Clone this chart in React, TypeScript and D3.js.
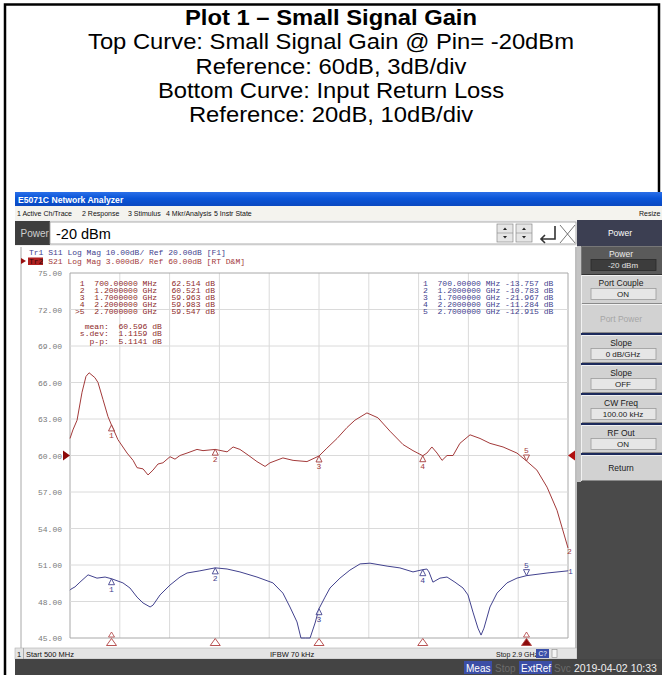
import React, { useRef, useEffect } from "react";
import * as d3 from "d3";

// testo sopra lo screenshot
const titleLines = [
  "Plot 1 – Small Signal Gain",
  "Top Curve: Small Signal Gain @ Pin= -20dBm",
  "Reference: 60dB, 3dB/div",
  "Bottom Curve: Input Return Loss",
  "Reference: 20dB, 10dB/div",
];

// S21 (Tr2) - frequenza in MHz, valore in dB
const s21Freq = [500, 514, 534, 558, 577, 592, 620, 635, 659, 683, 700, 731, 775, 804, 823, 852, 876, 900, 924, 948, 982, 1006, 1030, 1064, 1112, 1141, 1200, 1257, 1286, 1319, 1353, 1401, 1440, 1464, 1526, 1575, 1642, 1700, 1738, 1787, 1835, 1873, 1931, 1984, 2042, 2105, 2153, 2200, 2220, 2244, 2269, 2293, 2317, 2346, 2379, 2428, 2476, 2524, 2587, 2654, 2700, 2750, 2799, 2847, 2900];
const s21Db = [61.4, 62.1, 62.9, 65.2, 66.5, 66.8, 66.4, 66.0, 64.6, 63.2, 62.5, 61.3, 60.2, 59.6, 59.0, 58.9, 58.4, 58.8, 59.3, 59.4, 59.9, 59.7, 60.0, 60.2, 60.5, 60.4, 60.5, 60.3, 60.7, 60.5, 60.1, 59.5, 59.1, 59.4, 59.8, 59.6, 59.5, 59.96, 60.6, 61.4, 62.3, 62.9, 63.5, 63.1, 62.0, 60.9, 60.4, 59.98, 60.2, 60.7, 60.2, 59.6, 60.0, 60.0, 61.0, 61.7, 61.4, 61.0, 60.7, 60.2, 59.55, 58.8, 57.4, 55.5, 52.4];

// S11 (Tr1)
const s11Freq = [500, 505, 524, 548, 587, 630, 669, 700, 755, 789, 823, 852, 886, 900, 934, 982, 1030, 1064, 1126, 1200, 1257, 1319, 1401, 1478, 1526, 1560, 1594, 1613, 1635, 1657, 1681, 1700, 1729, 1753, 1801, 1849, 1898, 1946, 2028, 2090, 2153, 2200, 2220, 2230, 2249, 2283, 2317, 2355, 2394, 2418, 2442, 2466, 2481, 2495, 2524, 2558, 2606, 2654, 2700, 2799, 2900];
const s11Db = [-16.9, -16.6, -16.0, -14.7, -12.7, -13.6, -13.3, -13.76, -14.9, -16.3, -18.8, -20.4, -21.5, -21.0, -18.2, -15.5, -13.3, -12.2, -11.6, -10.78, -11.1, -11.9, -13.3, -14.9, -17.7, -21.5, -25.6, -30.5, -35, -30.5, -25.9, -21.97, -18.8, -16.3, -13.6, -11.4, -9.7, -9.5, -10.3, -10.8, -11.9, -11.28, -11.1, -11.9, -14.7, -13.6, -13.3, -14.7, -16.3, -18.2, -22.9, -27.3, -29.2, -27.3, -21.5, -17.7, -14.9, -13.6, -12.92, -12.2, -11.6];

// marker
const markerFreq = [700, 1200, 1700, 2200, 2700];
const markerFreqText = ["700.00000 MHz", "1.2000000 GHz", "1.7000000 GHz", "2.2000000 GHz", "2.7000000 GHz"];
const s21Marker = [62.514, 60.521, 59.963, 59.983, 59.547];
const s11Marker = [-13.757, -10.783, -21.967, -11.284, -12.915];
const statLabels = ["  mean:", " s.dev:", "   p-p:"];
const statValues = ["60.596", "1.1159", "5.1141"];

const yTicks = [75, 72, 69, 66, 63, 60, 57, 54, 51, 48, 45];
const menuItems = ["1 Active Ch/Trace", "2 Response", "3 Stimulus", "4 Mkr/Analysis", "5 Instr State"];
const softLabels = ["Power", "Port Couple", "Port Power", "Slope", "Slope", "CW Freq", "RF Out", "Return"];
const softValues = ["-20 dBm", "ON", "", "0 dB/GHz", "OFF", "100.00 kHz", "ON", ""];

const MONO = "'Liberation Mono', 'DejaVu Sans Mono', monospace";
const SANS = "'Liberation Sans', Arial, sans-serif";
const RED = "#a33a3a";
const BLUE = "#42428e";

export default function App() {
  const svgRef = useRef<SVGSVGElement>(null);

  useEffect(() => {
    const svg = d3.select(svgRef.current);
    svg.selectAll("*").remove();

    svg.append("rect").attr("width", 662).attr("height", 675).attr("fill", "#fff");

    // cornice nera
    svg.append("path")
      .attr("d", "M5,675 V4.5 H659 V195")
      .attr("fill", "none").attr("stroke", "#000").attr("stroke-width", 2.5);

    // righe del titolo: leggermente allargate in orizzontale, come nell'immagine
    titleLines.forEach((t, i) => {
      svg.append("text")
        .attr("transform", `translate(331,${25 + i * 24.3}) scale(1.107,1)`)
        .attr("text-anchor", "middle")
        .style("font-family", SANS)
        .style("font-size", "21.5px")
        .style("font-weight", i === 0 ? "bold" : "normal")
        .text(t);
    });

    // ---- finestra analizzatore ----
    const defs = svg.append("defs");
    const grad = defs.append("linearGradient").attr("id", "tb").attr("x1", 0).attr("y1", 0).attr("x2", 0).attr("y2", 1);
    grad.append("stop").attr("offset", "0%").attr("stop-color", "#2a6fe8");
    grad.append("stop").attr("offset", "45%").attr("stop-color", "#0a55d8");
    grad.append("stop").attr("offset", "100%").attr("stop-color", "#0a48c0");

    svg.append("rect").attr("x", 15).attr("y", 192).attr("width", 647).attr("height", 14).attr("fill", "url(#tb)");
    svg.append("text").attr("x", 18).attr("y", 203)
      .style("font-family", SANS).style("font-size", "8.6px").style("font-weight", "bold")
      .attr("fill", "#fff").text("E5071C Network Analyzer");

    svg.append("rect").attr("x", 15).attr("y", 206).attr("width", 647).attr("height", 14).attr("fill", "#f4f3ee");
    const menuX = [17, 82, 128, 166, 214];
    menuItems.forEach((m, i) => {
      svg.append("text").attr("x", menuX[i]).attr("y", 216)
        .style("font-family", SANS).style("font-size", "7px").attr("fill", "#111").text(m);
    });
    svg.append("text").attr("x", 639).attr("y", 216)
      .style("font-family", SANS).style("font-size", "7px").attr("fill", "#111").text("Resize");

    // barra Power
    svg.append("rect").attr("x", 15).attr("y", 220).attr("width", 562).attr("height", 26).attr("fill", "#f0f0f0");
    svg.append("rect").attr("x", 15).attr("y", 221).attr("width", 35).attr("height", 24).attr("fill", "#3e3e3e");
    svg.append("text").attr("x", 20.5).attr("y", 237)
      .style("font-family", SANS).style("font-size", "10px").attr("fill", "#cfcfcf").text("Power");
    svg.append("rect").attr("x", 50).attr("y", 222).attr("width", 526).attr("height", 22)
      .attr("fill", "#fff").attr("stroke", "#9a9a9a").attr("stroke-width", 0.8);
    svg.append("text").attr("x", 56).attr("y", 239)
      .style("font-family", SANS).style("font-size", "14.5px").attr("fill", "#000").text("-20 dBm");
    [497, 516].forEach(sx => {
      svg.append("rect").attr("x", sx).attr("y", 224).attr("width", 16).attr("height", 18)
        .attr("fill", "#e6e6e6").attr("stroke", "#8a8a8a").attr("stroke-width", 0.7);
      svg.append("line").attr("x1", sx).attr("x2", sx + 16).attr("y1", 233).attr("y2", 233).attr("stroke", "#8a8a8a").attr("stroke-width", 0.6);
      svg.append("path").attr("d", `M${sx + 6},230 L${sx + 8},227.5 L${sx + 10},230 Z`).attr("fill", "#222");
      svg.append("path").attr("d", `M${sx + 6},236 L${sx + 8},238.5 L${sx + 10},236 Z`).attr("fill", "#222");
    });
    svg.append("path").attr("d", "M555,226 V239 H541 M545,235 L541,239 L545,243")
      .attr("fill", "none").attr("stroke", "#333").attr("stroke-width", 1.6);
    svg.append("path").attr("d", "M560,225 L575,243 M575,225 L560,243")
      .attr("fill", "none").attr("stroke", "#555").attr("stroke-width", 0.8);

    svg.append("rect").attr("x", 577).attr("y", 220).attr("width", 85).attr("height", 26).attr("fill", "#3c3f52");
    svg.append("text").attr("x", 620).attr("y", 236).attr("text-anchor", "middle")
      .style("font-family", SANS).style("font-size", "8.5px").attr("fill", "#fff").text("Power");

    // pannello grafico
    svg.append("rect").attr("x", 15).attr("y", 246).attr("width", 562).attr("height", 402).attr("fill", "#fff");
    svg.append("line").attr("x1", 21).attr("x2", 21).attr("y1", 247).attr("y2", 648).attr("stroke", "#a8a8a8");
    svg.append("line").attr("x1", 576).attr("x2", 576).attr("y1", 247).attr("y2", 648).attr("stroke", "#a8a8a8").attr("stroke-width", 1.5);

    // intestazione tracce
    svg.append("text").attr("x", 29).attr("y", 255).attr("xml:space", "preserve")
      .style("font-family", MONO).style("font-size", "8px").attr("fill", BLUE)
      .text("Tr1 S11 Log Mag 10.00dB/ Ref 20.00dB [F1]");
    svg.append("path").attr("d", "M21,258 L26,261 L21,264 Z").attr("fill", "#9a1010");
    svg.append("rect").attr("x", 28).attr("y", 257.5).attr("width", 15).attr("height", 7.5).attr("fill", "#b02020");
    svg.append("text").attr("x", 29).attr("y", 263.5).attr("xml:space", "preserve")
      .style("font-family", MONO).style("font-size", "8px").attr("fill", "#3a0a0a")
      .text("Tr2");
    svg.append("text").attr("x", 48.2).attr("y", 263.5).attr("xml:space", "preserve")
      .style("font-family", MONO).style("font-size", "8px").attr("fill", RED)
      .text("S21 Log Mag 3.000dB/ Ref 60.00dB [RT D&M]");

    // scale
    const x = d3.scaleLinear().domain([500, 2900]).range([70, 568]);
    const y21 = d3.scaleLinear().domain([45, 75]).range([638, 273]).clamp(true);
    const y11 = d3.scaleLinear().domain([-30, 70]).range([638, 273]).clamp(true);

    const grid = svg.append("g");
    d3.range(0, 11).forEach(i => {
      const gx = x(500 + i * 240);
      grid.append("line").attr("x1", gx).attr("x2", gx).attr("y1", 273).attr("y2", 638)
        .attr("stroke", i === 0 || i === 10 ? "#a8a8a8" : "#dadada").attr("stroke-width", 1);
    });
    yTicks.forEach((t, i) => {
      const gy = y21(t);
      grid.append("line").attr("x1", 70).attr("x2", 568).attr("y1", gy).attr("y2", gy)
        .attr("stroke", i === 0 || i === yTicks.length - 1 ? "#a8a8a8" : "#dadada").attr("stroke-width", 1);
      grid.append("text").attr("x", 62).attr("y", gy + 3).attr("text-anchor", "end")
        .style("font-family", MONO).style("font-size", "8px").attr("fill", "#7a7a7a")
        .text(t.toFixed(2));
    });

    // testo tabellare, stretto in verticale come nello screenshot
    const tableText = (tx: number, ty: number, str: string, color: string) => {
      svg.append("text")
        .attr("transform", `translate(${tx},${ty}) scale(1.12,1)`)
        .attr("xml:space", "preserve")
        .style("font-family", MONO).style("font-size", "7.2px").attr("fill", color)
        .text(str);
    };

    // tabelle marker
    markerFreq.forEach((f, i) => {
      const ty = 285.5 + i * 7.2;
      const num = (i === 4 ? ">" : " ") + (i + 1);
      tableText(75, ty, `${num}  ${markerFreqText[i]}   ${s21Marker[i].toFixed(3)} dB`, "#8e2a2a");
      tableText(423, ty, `${i + 1}  ${markerFreqText[i]} ${s11Marker[i].toFixed(3)} dB`, BLUE);
    });
    statLabels.forEach((l, i) => {
      tableText(75, 328.5 + i * 7.5, `${l}  ${statValues[i]} dB`, "#8e2a2a");
    });

    // tracce
    const line21 = d3.line<number>().x((d, i) => x(s21Freq[i])).y(d => y21(d));
    const line11 = d3.line<number>().x((d, i) => x(s11Freq[i])).y(d => y11(d));
    svg.append("path").attr("d", line11(s11Db)).attr("fill", "none").attr("stroke", BLUE).attr("stroke-width", 1);
    svg.append("path").attr("d", line21(s21Db)).attr("fill", "none").attr("stroke", RED).attr("stroke-width", 1);

    // simboli marker sulle tracce
    const drawMarkers = (vals: number[], ys: (v: number) => number, color: string) => {
      vals.forEach((v, i) => {
        const mx = x(markerFreq[i]);
        const my = ys(v);
        if (i < 4) {
          svg.append("path").attr("d", `M${mx},${my} L${mx + 3},${my + 6} L${mx - 3},${my + 6} Z`)
            .attr("fill", "#fff").attr("fill-opacity", 0.6).attr("stroke", color).attr("stroke-width", 0.9);
          svg.append("text").attr("x", mx).attr("y", my + 13).attr("text-anchor", "middle")
            .style("font-family", MONO).style("font-size", "8px").attr("fill", color).text(i + 1);
        } else {
          svg.append("path").attr("d", `M${mx},${my} L${mx + 3},${my - 6} L${mx - 3},${my - 6} Z`)
            .attr("fill", "#fff").attr("fill-opacity", 0.6).attr("stroke", color).attr("stroke-width", 0.9);
          svg.append("text").attr("x", mx).attr("y", my - 8).attr("text-anchor", "middle")
            .style("font-family", MONO).style("font-size", "8px").attr("fill", color).text(i + 1);
        }
      });
    };
    drawMarkers(s21Marker, y21, RED);
    drawMarkers(s11Marker, y11, BLUE);

    // numeri di traccia a destra
    svg.append("text").attr("x", 567).attr("y", y21(s21Db[s21Db.length - 1]) + 6)
      .style("font-family", MONO).style("font-size", "8px").attr("fill", RED).text("2");
    svg.append("text").attr("x", 568).attr("y", y11(s11Db[s11Db.length - 1]) + 3)
      .style("font-family", MONO).style("font-size", "8px").attr("fill", BLUE).text("1");

    // marker di riferimento
    const ry = y21(60);
    svg.append("path").attr("d", `M63,${ry - 5} L70,${ry} L63,${ry + 5} Z`).attr("fill", "#8c0a0a");
    svg.append("path").attr("d", `M575,${ry - 5} L568,${ry} L575,${ry + 5} Z`).attr("fill", "#b01010");

    // triangoli di stimolo in basso
    markerFreq.forEach((f, i) => {
      const mx = x(f);
      svg.append("path").attr("d", `M${mx},638.5 L${mx + 5},645.5 L${mx - 5},645.5 Z`)
        .attr("fill", i === 4 ? "#8c0a0a" : "#fff").attr("stroke", "#b04040").attr("stroke-width", 0.9);
      if (i === 0 || i === 4) {
        svg.append("path").attr("d", `M${mx},632 L${mx + 3},637 L${mx - 3},637 Z`)
          .attr("fill", "#fff").attr("stroke", "#b04040").attr("stroke-width", 0.8);
      }
    });

    // barra di stato
    svg.append("rect").attr("x", 15).attr("y", 648).attr("width", 562).attr("height", 11)
      .attr("fill", "#e4e4e4").attr("stroke", "#b0b0b0").attr("stroke-width", 0.6);
    svg.append("text").attr("x", 17).attr("y", 656.5)
      .style("font-family", SANS).style("font-size", "7.5px").attr("fill", "#111").text("1");
    svg.append("line").attr("x1", 23.5).attr("x2", 23.5).attr("y1", 648).attr("y2", 659).attr("stroke", "#aaa");
    svg.append("text").attr("x", 26).attr("y", 656.5)
      .style("font-family", SANS).style("font-size", "7.5px").attr("fill", "#111").text("Start 500 MHz");
    svg.append("text").attr("x", 270).attr("y", 656.5)
      .style("font-family", SANS).style("font-size", "7.5px").attr("fill", "#111").text("IFBW 70 kHz");
    svg.append("text").attr("x", 496).attr("y", 656.5)
      .style("font-family", SANS).style("font-size", "7px").attr("fill", "#111").text("Stop 2.9 GHz");
    svg.append("rect").attr("x", 536).attr("y", 649).attr("width", 13).attr("height", 9).attr("fill", "#3a4fa8");
    svg.append("text").attr("x", 538.5).attr("y", 656)
      .style("font-family", SANS).style("font-size", "6.5px").attr("fill", "#fff").text("C?");
    svg.append("rect").attr("x", 552).attr("y", 649.5).attr("width", 5).attr("height", 8)
      .attr("fill", "#f4f4f4").attr("stroke", "#888").attr("stroke-width", 0.6);

    // pannello softkey
    svg.append("rect").attr("x", 577).attr("y", 246).attr("width", 85).attr("height", 414).attr("fill", "#4a4a4a");
    svg.append("rect").attr("x", 577).attr("y", 246).attr("width", 4).attr("height", 236).attr("fill", "#c4c4c4");
    const tops = [246, 275, 304, 333, 363, 393, 423, 453, 481];
    softLabels.forEach((lab, i) => {
      const sep = i >= 3 ? 2 : 0;
      const top = tops[i] + sep;
      const h = tops[i + 1] - top;
      const isPower = i === 0;
      if (sep) {
        svg.append("rect").attr("x", 581).attr("y", tops[i]).attr("width", 81).attr("height", 2).attr("fill", "#1c2a5c");
      }
      svg.append("rect").attr("x", 581).attr("y", top).attr("width", 81).attr("height", h)
        .attr("fill", isPower ? "#5a5a5a" : "#d2d2d2");
      svg.append("path").attr("d", `M581.5,${top + h - 0.5} V${top + 0.5} H662`)
        .attr("fill", "none").attr("stroke", isPower ? "#777" : "#f2f2f2").attr("stroke-width", 1);
      svg.append("path").attr("d", `M582,${top + h - 0.5} H662`)
        .attr("fill", "none").attr("stroke", isPower ? "#333" : "#8a8a8a").attr("stroke-width", 1);
      const val = softValues[i];
      const labColor = isPower ? "#ececec" : i === 2 ? "#a6a6a6" : "#1a1a1a";
      svg.append("text").attr("x", 621).attr("y", val ? top + 10.5 : top + h / 2 + 3)
        .attr("text-anchor", "middle")
        .style("font-family", SANS).style("font-size", "8.5px").attr("fill", labColor).text(lab);
      if (val) {
        svg.append("rect").attr("x", 591).attr("y", top + 13.5).attr("width", 65).attr("height", 11)
          .attr("fill", isPower ? "#3c3c3c" : "#e6e6e6").attr("stroke", isPower ? "#2a2a2a" : "#9c9c9c").attr("stroke-width", 0.8);
        svg.append("text").attr("x", 623).attr("y", top + 22)
          .attr("text-anchor", "middle")
          .style("font-family", SANS).style("font-size", "8px").attr("fill", isPower ? "#e4e4e4" : "#1a1a1a").text(val);
      }
    });

    // barra inferiore
    svg.append("rect").attr("x", 15).attr("y", 659).attr("width", 647).attr("height", 16).attr("fill", "#444");
    svg.append("rect").attr("x", 464).attr("y", 661).attr("width", 28).attr("height", 13).attr("fill", "#3b4ea6");
    svg.append("text").attr("x", 466).attr("y", 671.5)
      .style("font-family", SANS).style("font-size", "10px").attr("fill", "#fff").text("Meas");
    svg.append("text").attr("x", 495).attr("y", 671.5)
      .style("font-family", SANS).style("font-size", "10px").attr("fill", "#6c6c6c").text("Stop");
    svg.append("rect").attr("x", 519).attr("y", 661).attr("width", 33).attr("height", 13).attr("fill", "#3b4ea6");
    svg.append("text").attr("x", 521).attr("y", 671.5)
      .style("font-family", SANS).style("font-size", "10px").attr("fill", "#fff").text("ExtRef");
    svg.append("text").attr("x", 554).attr("y", 671.5)
      .style("font-family", SANS).style("font-size", "10px").attr("fill", "#6c6c6c").text("Svc");
    svg.append("text").attr("x", 574).attr("y", 671.5)
      .style("font-family", SANS).style("font-size", "10.5px").attr("fill", "#f0f0f0").text("2019-04-02 10:33");
  }, []);

  return (
    <div style={{ position: "absolute", left: 0, top: 0 }}>
      <svg ref={svgRef} width={662} height={675} />
    </div>
  );
}
